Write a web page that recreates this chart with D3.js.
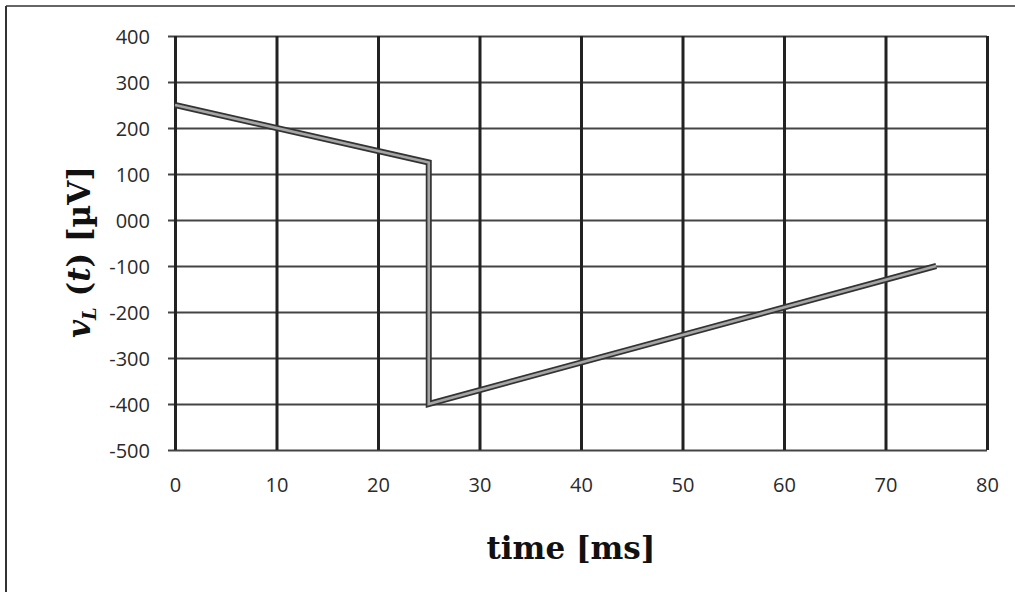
<!DOCTYPE html>
<html>
<head>
<meta charset="utf-8">
<script src="https://cdn.jsdelivr.net/npm/d3@7"></script>
<style>
  body { margin: 0; background: #fff; }
  svg { display: block; }
</style>
</head>
<body>
<div id="chart"></div>
<script>
// data
const timeMs = [0, 25, 25, 75];
const voltage = [250, 125, -400, -100];
const xTicks = [0, 10, 20, 30, 40, 50, 60, 70, 80];
const yTicks = [400, 300, 200, 100, 0, -100, -200, -300, -400, -500];
const yTickLabels = ["400", "300", "200", "100", "000", "-100", "-200", "-300", "-400", "-500"];

const W = 1015, H = 592;
const margin = { top: 36, right: 28, bottom: 142, left: 175 },
  width = W - margin.left - margin.right,
  height = H - margin.top - margin.bottom;

const root = d3.select("#chart").append("svg")
  .attr("width", W)
  .attr("height", H);

// outer frame (only top and left edges are visible in the scan)
root.append("line")
  .attr("x1", 6).attr("x2", W).attr("y1", 6).attr("y2", 6)
  .attr("stroke", "#666").attr("stroke-width", 2);
root.append("line")
  .attr("x1", 6).attr("x2", 6).attr("y1", 6).attr("y2", H)
  .attr("stroke", "#333").attr("stroke-width", 2);

const svg = root.append("g")
  .attr("transform", `translate(${margin.left}, ${margin.top})`);

const x = d3.scaleLinear().domain([0, 80]).range([0, width]);
const y = d3.scaleLinear().domain([-500, 400]).range([height, 0]);

const tickFont = "'Open Sans', Lato, sans-serif";

// horizontal grid + left ticks
svg.append("g")
  .attr("transform", "translate(-7,0)")
  .call(d3.axisLeft(y).tickValues(yTicks).tickSize(0).tickFormat((d, i) => yTickLabels[i]))
  .call(g => g.select(".domain").remove())
  .call(g => g.selectAll(".tick line")
    .attr("x1", 0)
    .attr("x2", width + 7)
    .attr("stroke", "#444")
    .attr("stroke-width", 2.2))
  .call(g => g.selectAll(".tick text")
    .attr("x", -18)
    .attr("dy", "0.36em")
    .style("font-family", tickFont)
    .style("font-size", "20px")
    .attr("fill", "#2a2a2a"));

// vertical grid
svg.append("g")
  .attr("transform", `translate(0, ${height})`)
  .call(d3.axisBottom(x).tickValues(xTicks).tickSize(-height).tickFormat(d3.format("d")))
  .call(g => g.select(".domain").remove())
  .call(g => g.selectAll(".tick line")
    .attr("stroke", "#222")
    .attr("stroke-width", 3))
  .call(g => g.selectAll(".tick text")
    .attr("y", 42)
    .attr("dy", 0)
    .style("font-family", tickFont)
    .style("font-size", "20px")
    .attr("fill", "#2a2a2a"));

// the series: thick line, dark edges with a lighter core
const pts = timeMs.map((t, i) => [t, voltage[i]]);
const line = d3.line().x(d => x(d[0])).y(d => y(d[1]));
svg.append("path")
  .datum(pts)
  .attr("d", line)
  .attr("fill", "none")
  .attr("stroke", "#333")
  .attr("stroke-width", 6)
  .attr("stroke-linejoin", "miter");
svg.append("path")
  .datum(pts)
  .attr("d", line)
  .attr("fill", "none")
  .attr("stroke", "#a5a5a5")
  .attr("stroke-width", 2.6)
  .attr("stroke-linejoin", "miter");

// x axis title
root.append("text")
  .attr("x", 571)
  .attr("y", 559)
  .attr("text-anchor", "middle")
  .style("font-family", "'DejaVu Serif', serif")
  .style("font-weight", "bold")
  .style("font-size", "31px")
  .attr("fill", "#111")
  .text("time [ms]");

// y axis title
const yt = root.append("text")
  .attr("transform", "translate(90, 252) rotate(-90)")
  .attr("text-anchor", "middle")
  .style("font-family", "'DejaVu Serif', serif")
  .style("font-weight", "bold")
  .style("font-size", "31px")
  .attr("fill", "#111");
yt.append("tspan").style("font-style", "italic").text("v");
yt.append("tspan").style("font-style", "italic").style("font-size", "18px").attr("dy", 6).text("L");
yt.append("tspan").attr("dy", -6).text(" (");
yt.append("tspan").style("font-style", "italic").text("t");
yt.append("tspan").text(") [µV]");
</script>
</body>
</html>
